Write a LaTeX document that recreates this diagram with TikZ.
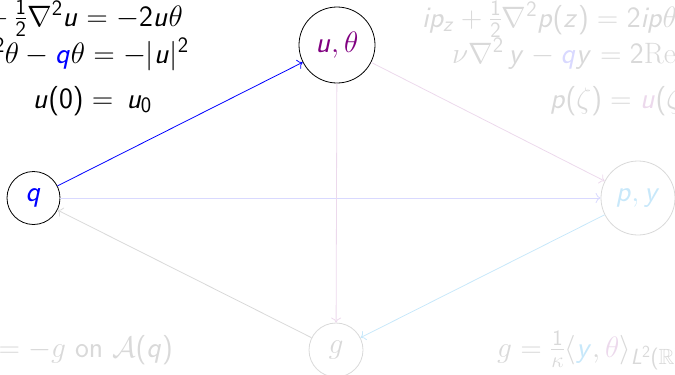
\RequirePackage{fix-cm}
\documentclass[tikz,border=0pt]{standalone}
\usepackage{amssymb}
\usetikzlibrary{arrows.meta}
\DeclareSymbolFont{sfletters}{OT1}{cmss}{m}{sl}
\SetSymbolFont{operators}{normal}{OT1}{cmss}{m}{n}
\DeclareMathSymbol{u}{\mathalpha}{sfletters}{`u}
\DeclareMathSymbol{q}{\mathalpha}{sfletters}{`q}
\DeclareMathSymbol{p}{\mathalpha}{sfletters}{`p}
\DeclareMathSymbol{y}{\mathalpha}{sfletters}{`y}
\DeclareMathSymbol{i}{\mathalpha}{sfletters}{`i}
\DeclareMathSymbol{z}{\mathalpha}{sfletters}{`z}
\DeclareMathSymbol{L}{\mathalpha}{sfletters}{`L}
\DeclareMathAlphabet{\mathserif}{OT1}{cmr}{m}{n}
\DeclareMathSizes{29.5}{29.5}{22}{17}
\definecolor{mypurple}{rgb}{0.5,0,0.5}
\colorlet{fgray}{black!15}
\colorlet{fblue}{blue!15}
\colorlet{fpurple}{mypurple!15}
\definecolor{fcyan}{RGB}{200,232,250}
\begin{document}
\begin{tikzpicture}[x=1pt,y=-1pt,
  every node/.style={font=\fontsize{29.5}{35}\selectfont},
  circ/.style={circle,draw,line width=0.8pt,inner sep=0pt},
  txt/.style={inner sep=0pt},
  arr/.style={line width=0.8pt,-{Computer Modern Rightarrow[length=5pt,width=10pt]}}]
\useasboundingbox (0,0) rectangle (675,375);
% nodes
\node[circ,minimum size=53pt,text=blue] (q) at (33.5,198) {$q$};
\node[circ,minimum size=76pt,text=mypurple] (u) at (337,45) {$u,\theta$};
\node[circ,minimum size=74pt,draw=fgray,text=fcyan] (py) at (638,198) {$p,y$};
\node[circ,minimum size=54pt,draw=fgray,text=fgray] (g) at (336,350) {$g$};
% connectors
\draw[arr,fpurple] (u) -- (py);
\draw[arr,fblue] (q) -- (py);
\draw[arr,fpurple] (u) -- (g);
\draw[arr,fgray] (g) -- (q);
\draw[arr,fcyan] (py) -- (g);
\draw[arr,blue] (q) -- (u);
% left equations
\node[txt,anchor=base east] (l1) at (183,26) {$iu_z + \frac{1}{2}\nabla^2u = -2u\theta$};
\node[txt,anchor=base east] (l2) at (189,63) {$\nu\nabla^2\theta - {\color{blue}q}\theta = -|u|^2$};
\node[txt,anchor=base east] (l3) at (152,108) {$u(0) = \,u_0$};
% right equations
\node[txt,anchor=base west,text=fgray] (r1) at (422,27) {$ip_z + \frac{1}{2}\nabla^2p(z) = 2ip\theta$};
\node[txt,anchor=base west,text=fgray] (r2) at (452,63) {$\nu\nabla^2\,y - {\color{fblue}q}y = 2\mathserif{Re}(\bar{u}p)$};
\node[txt,anchor=base west,text=fgray] (r3) at (550,108) {$p(\zeta) = {\color{fpurple}u}(\zeta)$};
% bottom equations
\node[txt,anchor=base east,text=fgray] (b1) at (173,357) {$\partial_\nu\theta = -g\ \mathrm{on}\ \mathcal{A}(q)$};
\node[txt,anchor=base west,text=fgray] (b2) at (497,357) {$g = \frac{1}{\kappa}\langle {\color{fcyan}y}, {\color{fpurple}\theta}\rangle_{L^2(\mathbb{R}^2)}$};
\end{tikzpicture}
\end{document}
